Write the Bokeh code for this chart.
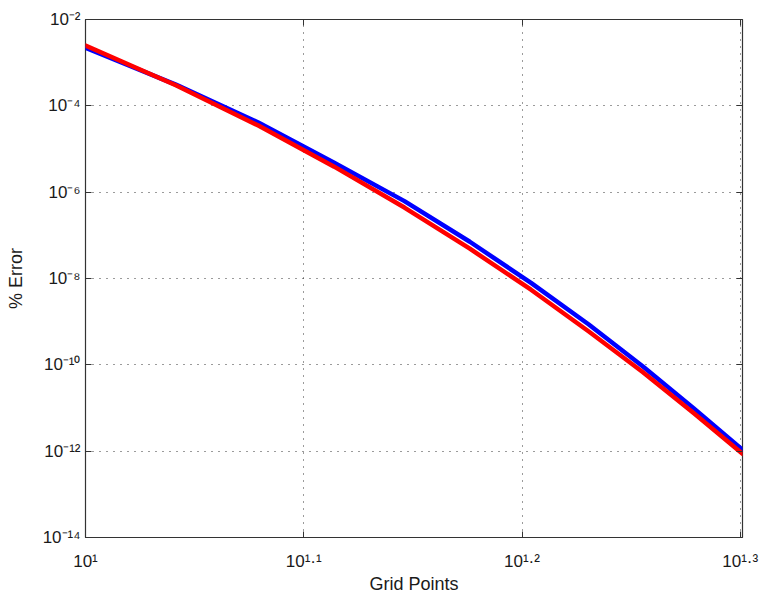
from bokeh.plotting import figure
from bokeh.models import Range1d, FixedTicker, LogAxis
from bokeh.embed import file_html
from bokeh.resources import INLINE

# ---- data ---------------------------------------------------------------
grid_points = [10, 11, 12, 13, 14, 15, 16, 17, 18, 19, 20]
error_blue = [2.2e-3, 3.1e-4, 4.1e-5, 4.8e-6, 6.2e-7, 7.1e-8,
              7.9e-9, 8.7e-10, 9.3e-11, 9.8e-12, 1.07e-12]
error_red = [2.5e-3, 3.0e-4, 3.5e-5, 3.9e-6, 4.4e-7, 4.9e-8,
             5.5e-9, 6.0e-10, 6.8e-11, 7.6e-12, 8.7e-13]

x_tick_exponents = ["1", "1.1", "1.2", "1.3"]
y_tick_exponents = [-14, -12, -10, -8, -6, -4, -2]
x_title = "Grid Points"
y_title = "% Error"

x_lo, x_hi = 10, 20
y_lo, y_hi = 1e-14, 1e-2

x_ticks = [10 ** float(e) for e in x_tick_exponents]
y_ticks = [10.0 ** e for e in y_tick_exponents]

# ---- superscript tick labels ------------------------------------------
SUP = str.maketrans("0123456789-.", "\u2070\u00b9\u00b2\u00b3\u2074\u2075\u2076\u2077\u2078\u2079\u207b\u00b7")


def power_label(expo):
    return "10" + str(expo).translate(SUP)


x_labels = {t: power_label(e) for t, e in zip(x_ticks, x_tick_exponents)}
y_labels = {t: power_label(e) for t, e in zip(y_ticks, y_tick_exponents)}

# ---- style --------------------------------------------------------------
FONT = "Liberation Sans"
INK = "#1a1a1a"
FRAME = "#333333"

p = figure(width=761, height=596,
           x_axis_type="log", y_axis_type="log",
           x_range=Range1d(x_lo, x_hi), y_range=Range1d(y_lo, y_hi),
           output_backend="svg", toolbar_location=None,
           min_border_left=85, min_border_right=19,
           min_border_top=19, min_border_bottom=58,
           background_fill_color="white", border_fill_color="white",
           outline_line_color=FRAME, outline_line_width=1.2)


def style_axis(ax, ticks):
    ax.ticker = FixedTicker(ticks=ticks, minor_ticks=[])
    ax.major_tick_in = 6
    ax.major_tick_out = 0
    ax.major_tick_line_color = FRAME
    ax.major_tick_line_width = 1
    ax.minor_tick_line_color = None
    ax.axis_line_color = None


# bottom axis
xa = p.xaxis[0]
style_axis(xa, x_ticks)
xa.major_label_overrides = x_labels
xa.major_label_text_font = FONT
xa.major_label_text_font_size = "17px"
xa.major_label_text_color = INK
xa.major_label_standoff = 14
xa.axis_label = x_title
xa.axis_label_text_font = FONT
xa.axis_label_text_font_size = "18px"
xa.axis_label_text_font_style = "normal"
xa.axis_label_text_color = INK
xa.axis_label_standoff = 0

# left axis
ya = p.yaxis[0]
style_axis(ya, y_ticks)
ya.major_label_overrides = y_labels
ya.major_label_text_font = FONT
ya.major_label_text_font_size = "17px"
ya.major_label_text_color = INK
ya.major_label_standoff = 5
ya.axis_label = y_title
ya.axis_label_text_font = FONT
ya.axis_label_text_font_size = "18px"
ya.axis_label_text_font_style = "normal"
ya.axis_label_text_color = INK
ya.axis_label_standoff = 14

# tick marks on the top and right edges of the box, no labels
for side, ticks in (("above", x_ticks), ("right", y_ticks)):
    ax = LogAxis()
    style_axis(ax, ticks)
    ax.major_label_text_color = None
    ax.major_label_text_font_size = "1px"
    ax.major_label_standoff = 0
    p.add_layout(ax, side)

# dotted grid
p.xgrid.ticker = FixedTicker(ticks=x_ticks)
p.ygrid.ticker = FixedTicker(ticks=y_ticks)
for g in (p.xgrid[0], p.ygrid[0]):
    g.grid_line_color = "#222222"
    g.grid_line_alpha = 0.9
    g.grid_line_width = 1
    g.grid_line_dash = "1 6"

# error curves
p.line(grid_points, error_blue, line_color="#0000FF", line_width=4.5,
       line_join="round", line_cap="round")
p.line(grid_points, error_red, line_color="#FF0000", line_width=4.5,
       line_join="round", line_cap="round")

open("out.html", "w").write(file_html(p, INLINE))
